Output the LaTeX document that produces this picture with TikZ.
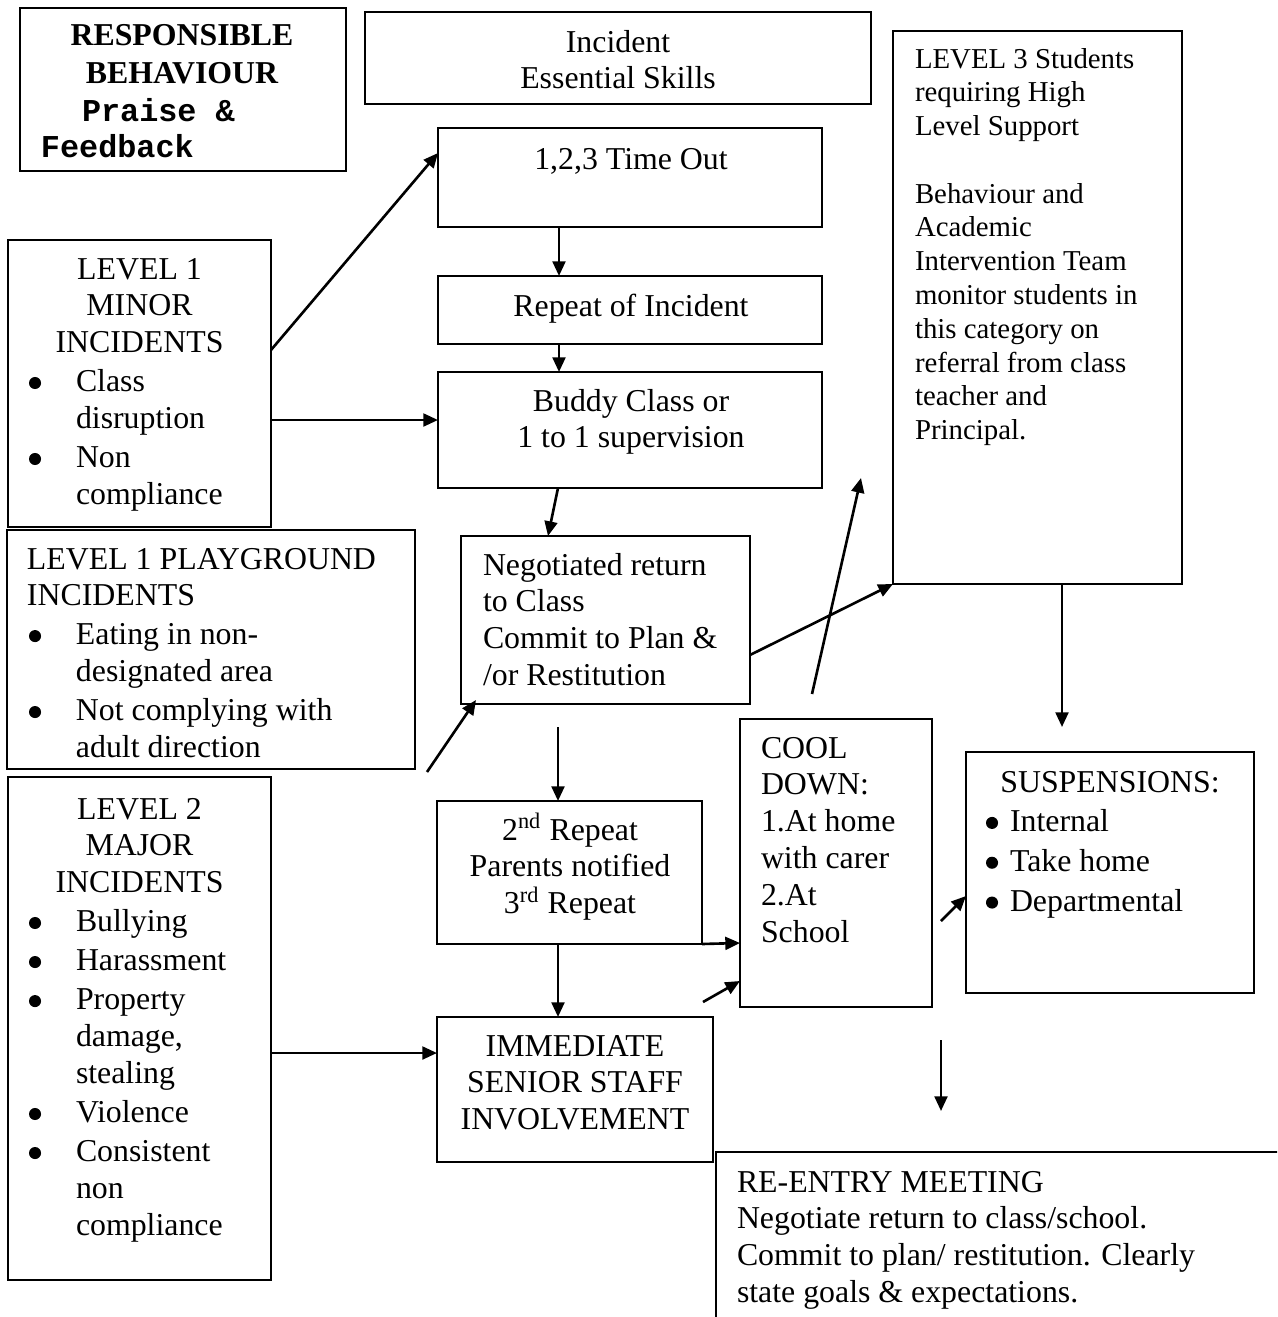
\documentclass[tikz,border=0pt]{standalone}
\usepackage{fontspec}
\setmainfont{Liberation Serif}
\setmonofont{Liberation Mono}
\usetikzlibrary{arrows.meta,calc}
\newcommand\pxu{0.3817pt}
\newcommand\px[1]{\dimexpr\pxu*#1\relax}
\newcommand\fs{\fontsize{12.15}{14.1}\selectfont}
\newcommand\fsS{\fontsize{11}{12.9}\selectfont}
\newlength\bind
\newlength\bo
\newcommand\bigbullet{\tikz[baseline=0pt,x=1pt,y=1pt]\fill (2.3pt,3.4pt) circle[radius=2.3pt];}
\newcommand\bitem[1]{\par\hangindent=\bind\hangafter=1\noindent\makebox[\bind][l]{\hspace{\bo}\bigbullet}#1\par}
\newcommand\tb[3][\fs]{\parbox[t]{\px{#2}}{#1\parindent=0pt\parskip=0pt\relax #3}}
\begin{document}
\begin{tikzpicture}[x=0.3817pt, y=-0.3817pt,
  bx/.style={draw, line width=0.85pt, rectangle, inner sep=0pt, outer sep=0pt, anchor=north west},
  txt/.style={inner sep=0pt, outer sep=0pt, font=\fs},
  arr/.style={-{Triangle[length=5.6pt,width=4.9pt]}, line width=1pt}]
\useasboundingbox (0,0) rectangle (1277,1317);
\clip (0,0) rectangle (1277,1317);
\fill[white] (0,0) rectangle (1277,1317);

% boxes
\node[bx, minimum width=326*\pxu, minimum height=163*\pxu] (rb) at (20,8) {};
\node[bx, minimum width=506*\pxu, minimum height=92*\pxu] (ie) at (365,12) {};
\node[bx, minimum width=384*\pxu, minimum height=99*\pxu] (to) at (438,128) {};
\node[bx, minimum width=384*\pxu, minimum height=68*\pxu] (rp) at (438,276) {};
\node[bx, minimum width=384*\pxu, minimum height=116*\pxu] (bu) at (438,372) {};
\node[bx, minimum width=263*\pxu, minimum height=287*\pxu] (l1) at (8,240) {};
\node[bx, minimum width=408*\pxu, minimum height=239*\pxu] (pg) at (7,530) {};
\node[bx, minimum width=289*\pxu, minimum height=168*\pxu] (neg) at (461,536) {};
\node[bx, minimum width=289*\pxu, minimum height=553*\pxu] (l3) at (893,31) {};
\node[bx, minimum width=263*\pxu, minimum height=503*\pxu] (l2) at (8,777) {};
\node[bx, minimum width=265*\pxu, minimum height=143*\pxu] (r2) at (437,801) {};
\node[bx, minimum width=192*\pxu, minimum height=288*\pxu] (cd) at (740,719) {};
\node[bx, minimum width=288*\pxu, minimum height=241*\pxu] (sus) at (966,752) {};
\node[bx, minimum width=276*\pxu, minimum height=145*\pxu] (imm) at (437,1017) {};
\node[bx, minimum width=700*\pxu, minimum height=300*\pxu] (re) at (716,1152) {};

% texts
\node[txt, anchor=base] (rbt1) at (182,45) {\bfseries RESPONSIBLE};
\node[txt, anchor=base] (rbt2) at (182,83) {\bfseries BEHAVIOUR};
\node[txt, anchor=base west] (rbt3) at (82,121) {\ttfamily\bfseries Praise \&};
\node[txt, anchor=base west] (rbt4) at (41,157) {\ttfamily\bfseries Feedback};

\node[txt, anchor=base] (iet) at (618,52) {\tb{420}{\centering Incident\\Essential Skills}};
\node[txt, anchor=base] (tot) at (631,169) {1,2,3 Time Out};
\node[txt, anchor=base] (rpt) at (631,316) {Repeat of Incident};
\node[txt, anchor=base] (but) at (631,411) {\tb{360}{\centering Buddy Class or\\1 to 1 supervision}};

\node[txt, anchor=base west] (l1t) at (29,279) {\tb{221}{{\centering LEVEL 1\\MINOR\\INCIDENTS\par}\parskip=0.8pt\setlength\bind{\px{47}}\setlength\bo{0pt}%
  \bitem{Class\newline disruption}\bitem{Non\newline compliance}}};

\node[txt, anchor=base west] (pgt) at (27,569) {\tb{385}{LEVEL 1 PLAYGROUND\newline INCIDENTS\par\parskip=0.8pt\setlength\bind{\px{49}}\setlength\bo{\px{2}}%
  \bitem{Eating in non-\newline designated area}\bitem{Not complying with\newline adult direction}}};

\node[txt, anchor=base west] (l2t) at (29,819) {\tb{221}{{\centering LEVEL 2\\MAJOR\\INCIDENTS\par}\parskip=0.8pt\setlength\bind{\px{47}}\setlength\bo{0pt}%
  \bitem{Bullying}\bitem{Harassment}\bitem{Property\newline damage,\newline stealing}\bitem{Violence}\bitem{Consistent\newline non\newline compliance}}};

\node[txt, anchor=base west] (negt) at (483,575) {\tb{262}{Negotiated return\newline to Class\newline Commit to Plan \&\newline /or Restitution}};

\node[txt, anchor=base west] (l3t) at (915,68) {\tb[\fsS]{262}{LEVEL 3 Students\newline requiring High\newline Level Support\newline\mbox{}\newline Behaviour and\newline Academic\newline Intervention Team\newline monitor students in\newline this category on\newline referral from class\newline teacher and\newline Principal.}};

\node[txt, anchor=base] (r2t) at (570,840) {\tb{255}{\centering 2\textsuperscript{nd} Repeat\\Parents notified\\3\textsuperscript{rd} Repeat}};

\node[txt, anchor=base west] (cdt) at (761,758) {\tb{168}{COOL\newline DOWN:\newline 1.At home\newline with carer\newline 2.At\newline School}};

\node[txt, anchor=base west] (sust) at (986,792) {\tb{248}{{\centering SUSPENSIONS:\par}\parskip=1.1pt\setlength\bind{\px{24}}\setlength\bo{0pt}%
  \bitem{Internal}\bitem{Take home}\bitem{Departmental}}};

\node[txt, anchor=base] (immt) at (575,1056) {\tb{270}{\centering IMMEDIATE\\SENIOR STAFF\\INVOLVEMENT}};

\node[txt, anchor=base west] (ret) at (737,1192) {\tb{530}{RE-ENTRY MEETING\newline Negotiate return to class/school.\newline Commit to plan/ restitution. Clearly\newline state goals \& expectations.}};

% free ends
\coordinate (c1) at (427,772);
\coordinate (c2) at (812,694);
\coordinate (c3) at (861,478);
\coordinate (c4) at (558,727);
\coordinate (c5) at (703,1002);
\coordinate (c6) at (941,921);
\coordinate (c7) at (941,1040);
\coordinate (c8) at (941,1111);

% connectors
\draw[arr] ($(l1.north east)+(0,110)$) -- ($(to.north west)+(0,25)$);
\draw[arr] ($(l1.north east)+(0,180)$) -- ($(bu.north west)+(0,48)$);
\draw[arr] ($(to.south west)+(121,0)$) -- ($(rp.north west)+(121,0)$);
\draw[arr] ($(rp.south west)+(121,0)$) -- ($(bu.north west)+(121,0)$);
\draw[arr] ($(bu.south west)+(120,0)$) -- ($(neg.north west)+(87,0)$);
\draw[arr] (c1) -- ($(neg.south west)+(15,-4)$);
\draw[arr] ($(neg.north east)+(0,119)$) -- (l3.south west);
\draw[arr] (c2) -- (c3);
\draw[arr] (c4) -- ($(r2.north west)+(121,0)$);
\draw[arr] ($(r2.south west)+(121,0)$) -- ($(imm.north west)+(121,0)$);
\draw[arr] (r2.south east) -- ($(cd.north west)+(0,224)$);
\draw[arr] (c5) -- ($(cd.north west)+(0,262)$);
\draw[arr] ($(l2.north east)+(0,276)$) -- ($(imm.north west)+(0,36)$);
\draw[arr] ($(l3.south west)+(169,0)$) -- ($(sus.north west)+(96,-25)$);
\draw[arr] (c6) -- ($(sus.north west)+(0,144)$);
\draw[arr] (c7) -- (c8);
\end{tikzpicture}
\end{document}
